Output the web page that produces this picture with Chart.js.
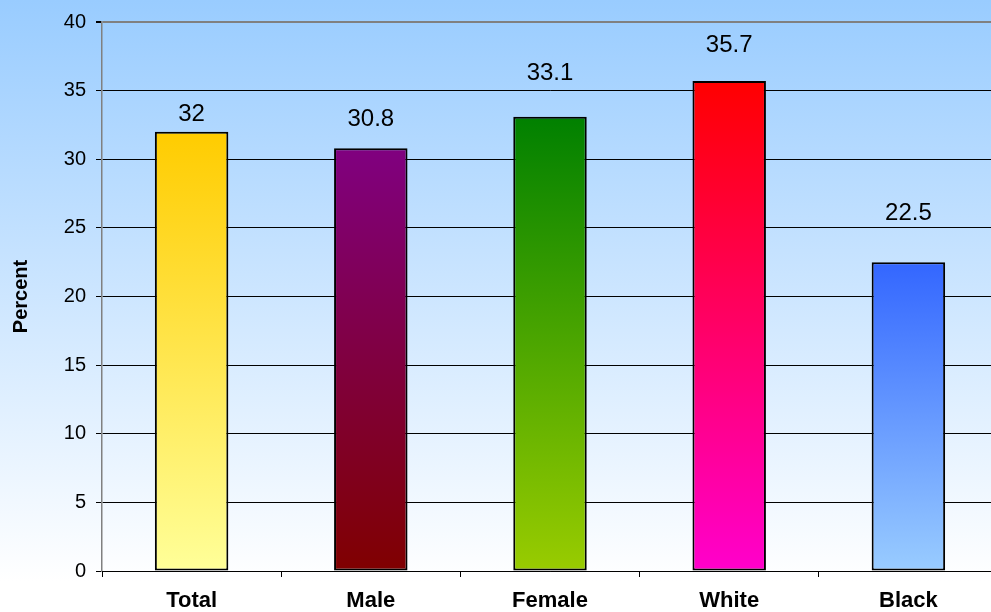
<!DOCTYPE html>
<html>
<head>
<meta charset="utf-8">
<script src="https://cdn.jsdelivr.net/npm/chart.js@4/dist/chart.umd.min.js"></script>
<style>
  html, body { margin: 0; padding: 0; overflow: hidden; background: #fff; }
  #wrap { width: 998px; height: 612px; }
</style>
</head>
<body>
<div id="wrap"><canvas id="percentChart" width="998" height="612"></canvas></div>
<script>
// Chart data
const categories = ['Total', 'Male', 'Female', 'White', 'Black'];
const percentValues = [32, 30.8, 33.1, 35.7, 22.5];
const valueLabels = ['32', '30.8', '33.1', '35.7', '22.5'];

// Bar gradient colours (top, bottom)
const barTopColors = ['#ffcc00', '#800080', '#008000', '#ff0000', '#3366ff'];
const barBottomColors = ['#ffff99', '#800000', '#99cc00', '#ff00cc', '#99ccff'];
// distance from bar top to label centre, like the Excel layout
const labelGaps = [17, 29, 43, 36, 49];

const fontFamily = 'Arial, "Liberation Sans", sans-serif';

// Background gradient for whole canvas
const backgroundPlugin = {
    id: 'bgGradient',
    beforeDraw(chart) {
        const ctx = chart.ctx;
        const g = ctx.createLinearGradient(0, 0, 0, chart.height);
        g.addColorStop(0, '#99ccff');
        g.addColorStop(0.95, '#ffffff');
        g.addColorStop(1, '#ffffff');
        ctx.save();
        ctx.fillStyle = g;
        ctx.fillRect(0, 0, chart.width, chart.height);
        ctx.restore();
    }
};

// Value labels above the bars
const valueLabelPlugin = {
    id: 'valueLabels',
    afterDatasetsDraw(chart) {
        const ctx = chart.ctx;
        const meta = chart.getDatasetMeta(0);
        ctx.save();
        ctx.font = '24px ' + fontFamily;
        ctx.fillStyle = '#000';
        ctx.textAlign = 'center';
        ctx.textBaseline = 'middle';
        meta.data.forEach((bar, i) => {
            ctx.fillText(valueLabels[i], bar.x, bar.y - labelGaps[i]);
        });
        ctx.restore();
    }
};

function barGradient(context) {
    const chart = context.chart;
    const i = context.dataIndex;
    if (!chart.chartArea || !chart.scales.y) return barTopColors[i];
    const yScale = chart.scales.y;
    const top = yScale.getPixelForValue(percentValues[i]);
    const bottom = yScale.getPixelForValue(0);
    const g = chart.ctx.createLinearGradient(0, top, 0, bottom);
    g.addColorStop(0, barTopColors[i]);
    g.addColorStop(1, barBottomColors[i]);
    return g;
}

const ctx = document.getElementById('percentChart').getContext('2d');
const percentChart = new Chart(ctx, {
    type: 'bar',
    data: {
        labels: categories,
        datasets: [{
            data: percentValues,
            backgroundColor: barGradient,
            borderColor: '#000',
            borderWidth: 2,
            borderSkipped: false,
            barPercentage: 0.41,
            categoryPercentage: 1
        }]
    },
    options: {
        responsive: false,
        animation: false,
        devicePixelRatio: 1,
        layout: { padding: { left: 0, right: 0, top: 22, bottom: 0 } },
        plugins: {
            legend: { display: false },
            tooltip: { enabled: false }
        },
        scales: {
            y: {
                min: 0,
                max: 40,
                ticks: {
                    stepSize: 5,
                    color: '#000',
                    padding: 10,
                    font: { family: fontFamily, size: 20 }
                },
                grid: {
                    color: (c) => c.tick && c.tick.value === 40 ? '#808080' : '#000',
                    lineWidth: (c) => c.tick && c.tick.value === 40 ? 2 : 1,
                    tickColor: '#000',
                    tickLength: 6
                },
                border: { color: '#808080', width: 1.5 },
                title: {
                    display: true,
                    text: 'Percent',
                    color: '#000',
                    padding: { top: 9, bottom: 0 },
                    font: { family: fontFamily, size: 20, weight: 'bold' }
                },
                afterFit(scale) { scale.width = 102; }
            },
            x: {
                offset: true,
                ticks: {
                    color: '#000',
                    padding: 11,
                    font: { family: fontFamily, size: 22, weight: 'bold' }
                },
                grid: {
                    offset: true,
                    drawOnChartArea: false,
                    color: '#000',
                    tickLength: 6
                },
                border: { color: '#000', width: 1 },
                afterFit(scale) { scale.height = 41; }
            }
        }
    },
    plugins: [backgroundPlugin, valueLabelPlugin]
});
</script>
</body>
</html>
